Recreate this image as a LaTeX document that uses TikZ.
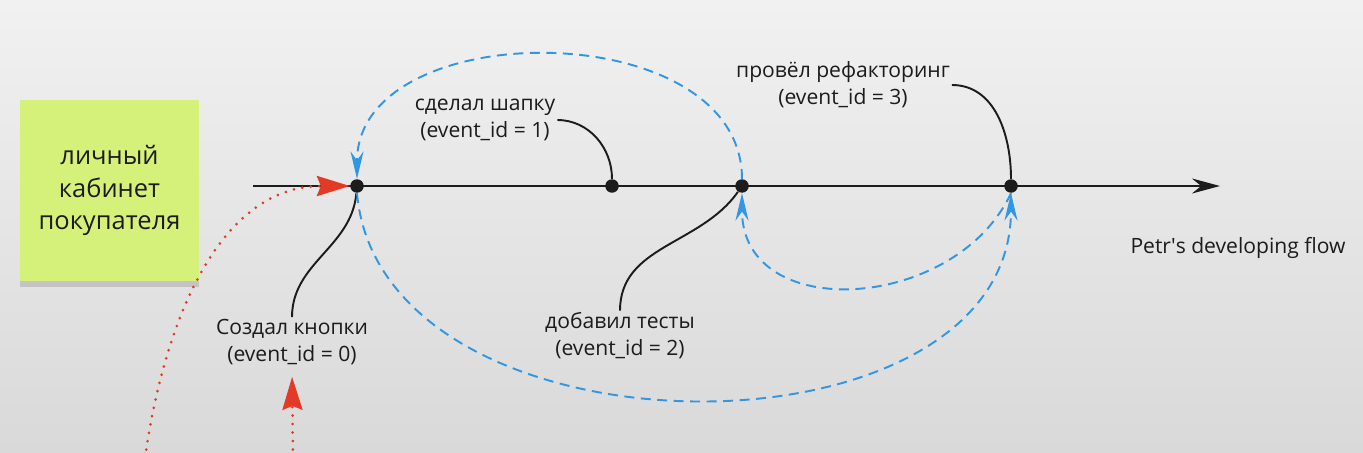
\documentclass[tikz,border=0pt]{standalone}
\usepackage{fontspec}
\setmainfont{Open Sans}[Ligatures=TeXOff]
\usepackage{tikz}
\usetikzlibrary{arrows.meta}
\usetikzlibrary{shadows}
\definecolor{board}{RGB}{241,241,241}
\definecolor{boardlow}{RGB}{217,217,217}
\definecolor{sticky}{RGB}{214,241,122}
\definecolor{flowblue}{RGB}{50,150,226}
\definecolor{flowred}{RGB}{226,58,36}
\definecolor{ink}{RGB}{28,28,28}

\begin{document}
\begin{tikzpicture}[x=0.02cm, y=-0.02cm]
\tikzstyle{event} = [circle, fill=ink, inner sep=0pt, minimum size=0.27cm]
\tikzstyle{caption} = [align=center, text=ink, inner sep=1pt, font=\fontsize{12}{15.3}\selectfont]
\tikzstyle{note} = [fill=sticky, minimum width=3.58cm, minimum height=3.62cm, align=center, text=ink,
  font=\fontsize{14.5}{18.7}\selectfont, drop shadow={shadow xshift=0pt, shadow yshift=-0.12cm, opacity=0.3}]
\tikzstyle{timeline} = [draw=ink, line width=1.15pt, -{Stealth[length=0.56cm, width=0.3cm]}]
\tikzstyle{callout} = [draw=ink, line width=1.1pt]
\tikzstyle{jump} = [draw=flowblue, line width=1.1pt, dash pattern=on 0.2cm off 0.13cm, -{Stealth[length=0.55cm, width=0.26cm]}]
\tikzstyle{entry} = [draw=flowred, line width=1.7pt, line cap=round, dash pattern=on 0pt off 0.17cm, -{Stealth[length=0.66cm, width=0.4cm, inset=0.08cm]}]

\shade[top color=board, middle color=board, bottom color=boardlow] (0,0) rectangle (1363,453);
\useasboundingbox (0,0) rectangle (1363,453);

\node[note] (cabinet) at (109.5,190.5) {личный\\кабинет\\покупателя};

% events on the flow
\coordinate (start) at (253,186);
\coordinate (end) at (1220,186);
\draw[timeline] (start) -- (end);
\node[event] (e0) at (357,186) {};
\node[event] (e1) at (612,186) {};
\node[event] (e2) at (742,186) {};
\node[event] (e3) at (1011,186) {};

\node[caption] (l0) at (292,342) {Создал кнопки\\(event\_id = 0)};
\node[caption] (l1) at (485,120) {сделал шапку\\(event\_id = 1)};
\node[caption] (l2) at (620,336) {добавил тесты\\(event\_id = 2)};
\node[caption] (l3) at (843,85) {провёл рефакторинг\\(event\_id = 3)};
\node[caption] (flowname) at (1238,248) {Petr\textquotesingle s developing flow};

\draw[callout] (l0.north) to[out=90, in=-95] (e0);
\draw[callout] (l1.east) to[out=0, in=90] (e1);
\draw[callout] (l2.north) to[out=90, in=-125] (e2);
\draw[callout] (l3.east) to[out=0, in=90] (e3);

% jumps between events
\draw[jump] (e2.north) to[out=90, in=90, looseness=1.1] (e0.north);
\draw[jump] (e0.south) to[out=-85, in=-90, looseness=1.08] (e3.south);
\draw[jump] (e3.south) to[out=-115, in=-90, looseness=1.25] (e2.south);

% incoming from below
\coordinate (r1) at (145,458);
\coordinate (r2) at (293,458);
\draw[entry] (r1) to[out=82, in=180] (e0.west);
\draw[entry, shorten >=0.2cm] (r2) -- (l0.south);
\end{tikzpicture}
\end{document}
